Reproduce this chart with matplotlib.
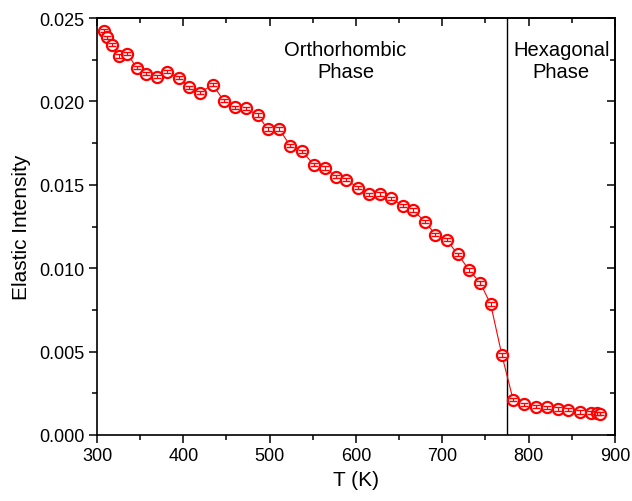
import matplotlib
matplotlib.use("Agg")
from matplotlib import pyplot as plt
from matplotlib.ticker import MultipleLocator, FormatStrFormatter

plt.rcParams['font.family'] = ['Liberation Sans', 'DejaVu Sans']

# Temperature (K) and elastic intensity
temperature = [308, 311, 317, 325, 335, 346, 357, 369, 381, 395,
               407, 419, 434, 447, 460, 473, 486, 498, 511, 524,
               538, 551, 564, 577, 589, 602, 615, 628, 641, 654,
               666, 680, 692, 705, 718, 731, 744, 756, 769, 782,
               795, 808, 821, 834, 846, 859, 872, 879, 883]
intensity = [0.02424, 0.02384, 0.0234, 0.02272, 0.02286, 0.02202, 0.02166, 0.02148, 0.02178, 0.02142,
             0.02084, 0.02052, 0.0210, 0.02004, 0.01964, 0.01958, 0.01918, 0.01834, 0.01834, 0.01734,
             0.01701, 0.0162, 0.016, 0.01549, 0.01531, 0.01483, 0.01443, 0.01445, 0.01419, 0.01375,
             0.01349, 0.01279, 0.01201, 0.01171, 0.01083, 0.0099, 0.00911, 0.00785, 0.0048, 0.00212,
             0.00184, 0.0017, 0.00166, 0.00156, 0.00152, 0.00138, 0.00134, 0.0013, 0.00128]
error = 0.0001
transition_T = 775

fig = plt.figure(figsize=(6.32, 5.02), dpi=100)
ax = fig.add_axes([0.1535, 0.1315, 0.8195, 0.8305])

ax.plot(temperature, intensity, '-', color='red', lw=0.8, zorder=2)
ax.plot(temperature, intensity, 'o', mfc='white', mec='red', mew=1.6, ms=8, zorder=3)
ax.errorbar(temperature, intensity, yerr=error, fmt='none', ecolor='red',
            elinewidth=0.8, capsize=2.8, capthick=1.0, zorder=4)

ax.axvline(transition_T, color='black', lw=1.0, zorder=1)

ax.text(588, 0.02245, 'Orthorhombic\nPhase', ha='center', va='center', fontsize=14.5, linespacing=1.15)
ax.text(838, 0.02245, 'Hexagonal\nPhase', ha='center', va='center', fontsize=14.5, linespacing=1.15)

ax.set_xlim(300, 900)
ax.set_ylim(0, 0.025)
ax.xaxis.set_major_locator(MultipleLocator(100))
ax.xaxis.set_minor_locator(MultipleLocator(50))
ax.yaxis.set_major_locator(MultipleLocator(0.005))
ax.yaxis.set_minor_locator(MultipleLocator(0.0025))
ax.yaxis.set_major_formatter(FormatStrFormatter('%.3f'))

ax.tick_params(which='both', direction='out', top=False, right=False, labelsize=13, width=1.1)
ax.tick_params(which='major', length=6, pad=3)
ax.tick_params(which='minor', length=3.5)

# inward ticks on the top and right sides
for side in ['top', 'right']:
    twin = ax.secondary_xaxis('top') if side == 'top' else ax.secondary_yaxis('right')
    twin.tick_params(which='both', direction='in', width=1.1, labelleft=False,
                     labelright=False, labeltop=False)
    twin.tick_params(which='major', length=6)
    twin.tick_params(which='minor', length=3.5)
    if side == 'top':
        twin.xaxis.set_major_locator(MultipleLocator(100))
        twin.xaxis.set_minor_locator(MultipleLocator(50))
    else:
        twin.yaxis.set_major_locator(MultipleLocator(0.005))
        twin.yaxis.set_minor_locator(MultipleLocator(0.0025))
    for s in twin.spines.values():
        s.set_linewidth(1.2)

for s in ax.spines.values():
    s.set_linewidth(1.2)

ax.set_xlabel('T (K)', fontsize=15, labelpad=4)
ax.set_ylabel('Elastic Intensity', fontsize=15, labelpad=6)

fig.savefig('out.png', dpi=100)
